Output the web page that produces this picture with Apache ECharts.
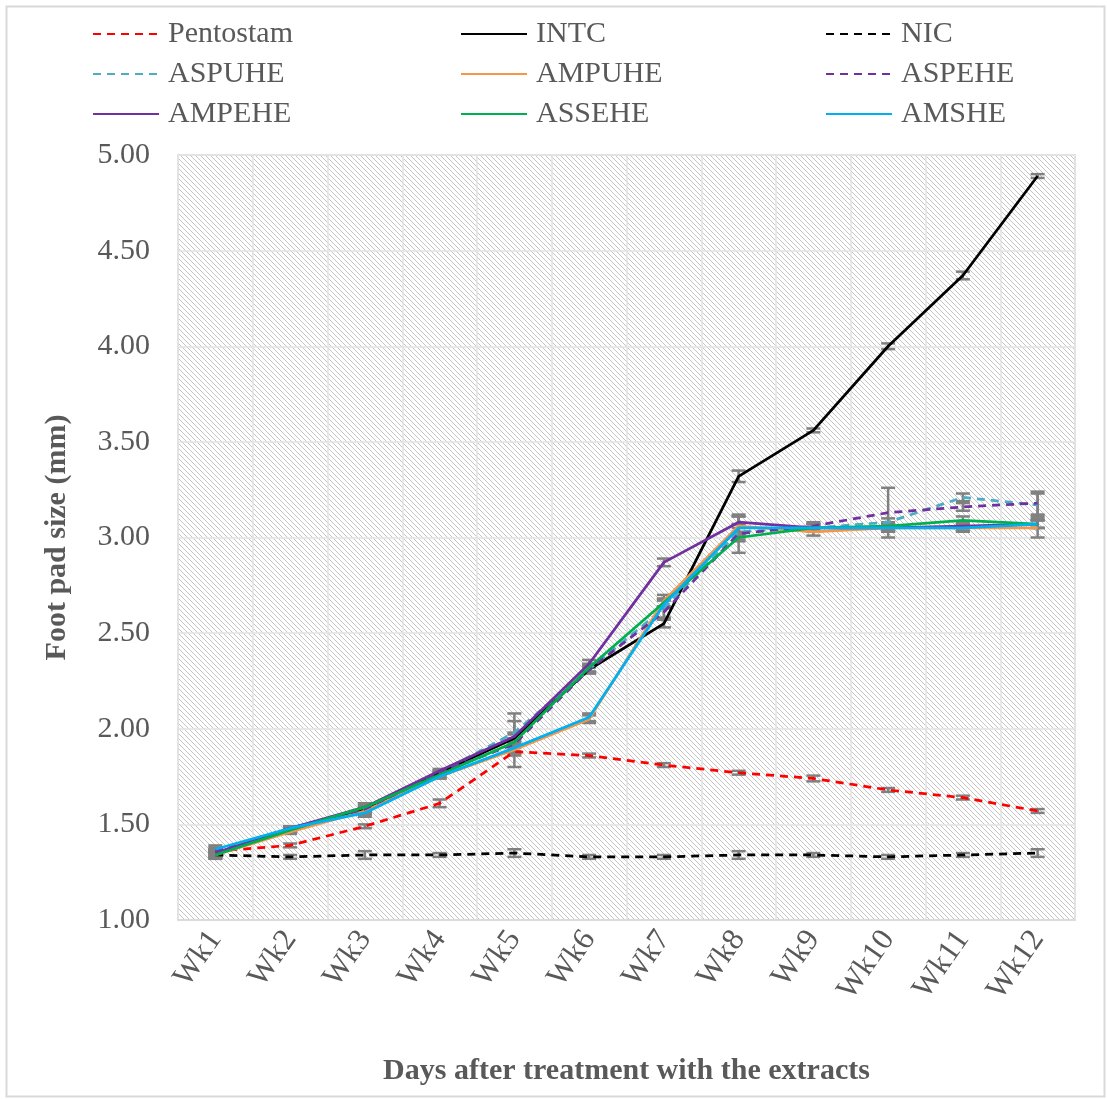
<!DOCTYPE html>
<html><head><meta charset="utf-8">
<script src="https://cdn.jsdelivr.net/npm/echarts@6/dist/echarts.min.js"></script>
<style>html,body{margin:0;padding:0;background:#fff}#c{width:1107px;height:1099px}</style>
</head><body><div id="c"></div>
<script>
const weeks = ['Wk1','Wk2','Wk3','Wk4','Wk5','Wk6','Wk7','Wk8','Wk9','Wk10','Wk11','Wk12'];
const yTicks = [1.0, 5.0, 0.5]; // min, max, interval

const pentostam = [1.36, 1.39, 1.49, 1.61, 1.88, 1.86, 1.81, 1.77, 1.74, 1.68, 1.64, 1.57];
const intc      = [1.35, 1.47, 1.58, 1.77, 1.95, 2.31, 2.55, 3.32, 3.56, 4.00, 4.37, 4.89];
const nic       = [1.34, 1.33, 1.34, 1.34, 1.35, 1.33, 1.33, 1.34, 1.34, 1.33, 1.34, 1.35];
const aspuhe    = [1.35, 1.48, 1.58, 1.77, 1.98, 2.31, 2.63, 3.03, 3.05, 3.08, 3.21, 3.17];
const ampuhe    = [1.34, 1.46, 1.57, 1.75, 1.89, 2.05, 2.67, 3.06, 3.03, 3.05, 3.05, 3.05];
const aspehe    = [1.36, 1.48, 1.58, 1.77, 1.92, 2.31, 2.61, 3.02, 3.06, 3.13, 3.16, 3.18];
const ampehe    = [1.35, 1.48, 1.59, 1.78, 1.96, 2.34, 2.87, 3.08, 3.05, 3.05, 3.06, 3.07];
const assehe    = [1.34, 1.47, 1.59, 1.76, 1.93, 2.32, 2.66, 3.00, 3.05, 3.06, 3.09, 3.07];
const amshe     = [1.37, 1.48, 1.56, 1.75, 1.90, 2.06, 2.65, 3.05, 3.05, 3.05, 3.05, 3.07];

const pentostamErr = [0.01, 0.01, 0.01, 0.02, 0.02, 0.01, 0.01, 0.01, 0.015, 0.01, 0.01, 0.01];
const intcErr      = [0.01, 0.01, 0.01, 0.01, 0.02, 0.02, 0.02, 0.03, 0.01, 0.015, 0.02, 0.01];
const nicErr       = [0.01, 0.01, 0.02, 0.01, 0.02, 0.01, 0.01, 0.02, 0.01, 0.01, 0.01, 0.02];
const aspuheErr    = [0.02, 0.01, 0.02, 0.01, 0.10, 0.02, 0.05, 0.04, 0.02, 0.02, 0.02, 0.06];
const ampuheErr    = [0.02, 0.01, 0.02, 0.01, 0.02, 0.02, 0.03, 0.05, 0.02, 0.02, 0.02, 0.05];
const aspeheErr    = [0.02, 0.01, 0.02, 0.01, 0.12, 0.02, 0.03, 0.10, 0.02, 0.13, 0.02, 0.06];
const ampeheErr    = [0.02, 0.01, 0.02, 0.01, 0.02, 0.02, 0.02, 0.03, 0.02, 0.02, 0.02, 0.02];
const asseheErr    = [0.02, 0.01, 0.02, 0.01, 0.02, 0.02, 0.02, 0.02, 0.02, 0.02, 0.02, 0.02];
const amsheErr     = [0.02, 0.01, 0.02, 0.01, 0.02, 0.02, 0.02, 0.02, 0.02, 0.02, 0.02, 0.02];

const FONT = '"Liberation Serif", "Times New Roman", serif';
const TXT = '#595959';

// hatch pattern for plot background
const pc = document.createElement('canvas');
const n = 5; pc.width = n; pc.height = n;
const g = pc.getContext('2d');
g.fillStyle = '#ffffff'; g.fillRect(0,0,n,n);
g.strokeStyle = '#c4c4c4'; g.lineWidth = 1;
for (let k = -1; k <= 1; k++) { g.beginPath(); g.moveTo(k*n, 0); g.lineTo(k*n + n, n); g.stroke(); }

const defs = [
  {name:'Pentostam', data:pentostam, err:pentostamErr, color:'#ff0000', dash:true},
  {name:'INTC', data:intc, err:intcErr, color:'#000000', dash:false},
  {name:'NIC', data:nic, err:nicErr, color:'#000000', dash:true},
  {name:'ASPUHE', data:aspuhe, err:aspuheErr, color:'#4bacc6', dash:true},
  {name:'AMPUHE', data:ampuhe, err:ampuheErr, color:'#f79646', dash:false},
  {name:'ASPEHE', data:aspehe, err:aspeheErr, color:'#7030a0', dash:true},
  {name:'AMPEHE', data:ampehe, err:ampeheErr, color:'#7030a0', dash:false},
  {name:'ASSEHE', data:assehe, err:asseheErr, color:'#00b050', dash:false},
  {name:'AMSHE', data:amshe, err:amsheErr, color:'#00b0f0', dash:false}
];

const series = [];
defs.forEach(d => {
  series.push({
    type:'custom', name: d.name + ' (SE)', z: 1, silent: true,
    data: d.data.map((v,i) => [i, v, d.err[i]]),
    encode: {x:0, y:1},
    renderItem: (params, api) => {
      const x = api.value(0), v = api.value(1), e = api.value(2);
      const t = api.coord([x, v + e]), b = api.coord([x, v - e]);
      const hw = 7, st = {stroke:'#808080', lineWidth:2.5};
      return {type:'group', children:[
        {type:'line', shape:{x1:t[0], y1:t[1], x2:b[0], y2:b[1]}, style:st},
        {type:'line', shape:{x1:t[0]-hw, y1:t[1], x2:t[0]+hw, y2:t[1]}, style:st},
        {type:'line', shape:{x1:b[0]-hw, y1:b[1], x2:b[0]+hw, y2:b[1]}, style:st}
      ]};
    }
  });
});
defs.forEach(d => {
  series.push({
    type:'line', name:d.name, data:d.data, z: 3,
    showSymbol:false, symbol:'none', animation:false,
    lineStyle:{color:d.color, width:2.75, type: d.dash ? [8,6] : 'solid'},
    itemStyle:{color:d.color}
  });
});

function legendCol(names, left) {
  return {
    data: names, orient:'vertical', left:left, top:19,
    itemWidth:66, itemHeight:14, itemGap:10, padding:0,
    itemStyle:{color:'rgba(0,0,0,0)', borderColor:'rgba(0,0,0,0)', borderWidth:0},
    textStyle:{fontFamily:FONT, fontSize:30, lineHeight:30, color:TXT, padding:[0,0,0,4]}
  };
}

const chart = echarts.init(document.getElementById('c'), null, {renderer:'canvas'});
chart.setOption({
  animation:false,
  backgroundColor:'#ffffff',
  legend:[
    legendCol(['Pentostam','ASPUHE','AMPEHE'], 92),
    legendCol(['INTC','AMPUHE','ASSEHE'], 460),
    legendCol(['NIC','ASPEHE','AMSHE'], 825)
  ],
  grid:{left:178, right:32, top:155, bottom:179, show:true,
        backgroundColor:{image:pc, repeat:'repeat'}, borderColor:'#d9d9d9', borderWidth:1.5},
  xAxis:[
    {type:'category', data:weeks, boundaryGap:true, position:'bottom',
     axisLine:{show:true, lineStyle:{color:'#d9d9d9', width:1.5}}, axisTick:{show:false},
     splitLine:{show:false},
     axisLabel:{rotate:55, fontFamily:FONT, fontSize:31, color:TXT, margin:14},
     name:'Days after treatment with the extracts', nameLocation:'middle', nameGap:136,
     nameTextStyle:{fontFamily:FONT, fontSize:30, fontWeight:'bold', color:TXT}},
    {type:'category', data:weeks.flatMap(w => [w + 'a', w + 'b']), boundaryGap:true, position:'top',
     axisLine:{show:false}, axisTick:{show:false}, axisLabel:{show:false},
     splitLine:{show:true, lineStyle:{color:'#e3e3e3', width:1.5}}}
  ],
  yAxis:{type:'value', min:yTicks[0], max:yTicks[1], interval:yTicks[2],
    axisLine:{show:false}, axisTick:{show:false},
    splitLine:{show:true, lineStyle:{color:'#e3e3e3', width:1.5}},
    axisLabel:{fontFamily:FONT, fontSize:30, color:TXT, margin:28, formatter:v => v.toFixed(2)},
    name:'Foot pad size (mm)', nameLocation:'middle', nameGap:106,
    nameTextStyle:{fontFamily:FONT, fontSize:30, fontWeight:'bold', color:TXT}},
  graphic:[{type:'rect', left:4, top:4, shape:{width:1098, height:1090},
    style:{fill:'none', stroke:'#d9d9d9', lineWidth:2}, z:-1, silent:true}],
  series: series
});
</script></body></html>
